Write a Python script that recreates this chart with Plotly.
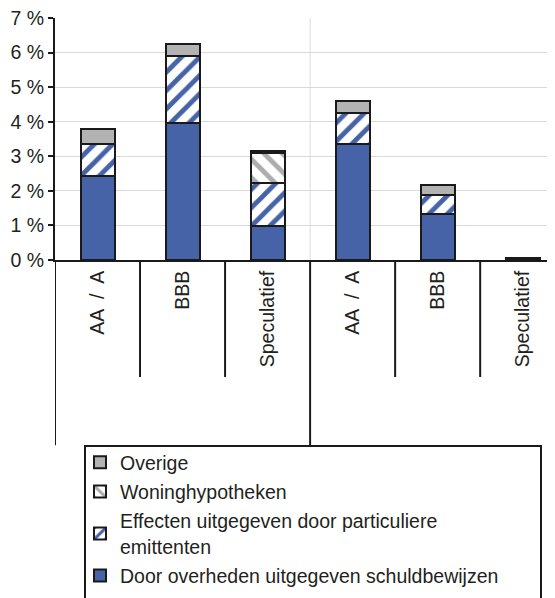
import plotly.graph_objects as go

categories = ["AA\u2002/\u2002A", "BBB", "Speculatief", "AA\u2002/\u2002A", "BBB", "Speculatief"]
door = [2.43, 3.96, 0.97, 3.35, 1.34, 0.03]
effecten = [0.93, 1.95, 1.25, 0.91, 0.53, 0.0]
woning = [0.0, 0.0, 0.87, 0.0, 0.0, 0.0]
overige = [0.43, 0.34, 0.05, 0.34, 0.29, 0.02]
yticks = [0, 1, 2, 3, 4, 5, 6, 7]
ytick_labels = [f"{v} %" for v in yticks]

BLUE = "#4763a7"
GRAY = "#b3b3b3"
TXT = "#231f20"
FONT = "Liberation Sans, Arial, sans-serif"
FS = 19.5

# page has an 8px body margin; the figure is sized to fill the remaining window
W, H = 547, 590

xs = list(range(len(categories)))
line = dict(color="#1a1a1a", width=2)

fig = go.Figure()
fig.add_bar(x=xs, y=door, name="Door overheden uitgegeven schuldbewijzen",
            marker=dict(color=BLUE, line=line), width=0.4, legendrank=4, legendgroup="d")
fig.add_bar(x=xs, y=effecten, name="Effecten uitgegeven door particuliere<br>emittenten",
            marker=dict(color="white", line=line,
                        pattern=dict(shape="/", fgcolor=BLUE, bgcolor="white",
                                     size=13, solidity=0.38, fillmode="replace")),
            width=0.4, legendrank=3, legendgroup="c")
fig.add_bar(x=xs, y=woning, name="Woninghypotheken",
            marker=dict(color="white", line=line,
                        pattern=dict(shape="\\", fgcolor="#adadad", bgcolor="white",
                                     size=13, solidity=0.38, fillmode="replace")),
            width=0.4, legendrank=2, legendgroup="b")
fig.add_bar(x=xs, y=overige, name="Overige",
            marker=dict(color=GRAY, line=line), width=0.4, legendrank=1, legendgroup="a")

shapes = []
# vertical grid line between groups
shapes.append(dict(type="line", xref="x", yref="y", x0=2.5, x1=2.5, y0=0, y1=7,
                   line=dict(color="#d9d9d9", width=1), layer="below"))
# category separators below axis
for b in [0.5, 1.5, 3.5, 4.5]:
    shapes.append(dict(type="line", xref="x", yref="paper", x0=b, x1=b, y0=0, y1=-0.4835,
                       line=dict(color="#1a1a1a", width=2)))
for b in [-0.5, 2.5]:
    shapes.append(dict(type="line", xref="x", yref="paper", x0=b, x1=b, y0=0, y1=-0.766,
                       line=dict(color="#1a1a1a", width=2)))
# legend box
shapes.append(dict(type="rect", xref="paper", yref="paper", x0=0.06, x1=0.972,
                   y0=-0.7686, y1=-1.6, line=dict(color="#1a1a1a", width=2),
                   fillcolor="rgba(0,0,0,0)"))

fig.update_layout(
    width=W, height=H,
    margin=dict(l=47, r=0, t=10, b=338, autoexpand=False),
    paper_bgcolor="white", plot_bgcolor="white",
    barmode="stack", bargap=0.6,
    font=dict(family=FONT, size=FS, color=TXT),
    showlegend=True,
    legend=dict(xref="container", yref="container", x=72 / W, xanchor="left",
                y=1 - 435 / H, yanchor="top",
                traceorder="grouped", tracegroupgap=1,
                font=dict(family=FONT, size=FS, color=TXT),
                bgcolor="rgba(0,0,0,0)", borderwidth=0, itemsizing="constant"),
    shapes=shapes,
)
fig.update_xaxes(range=[-0.5, 5.38], tickmode="array", tickvals=xs, ticktext=categories,
                 tickangle=-90, showgrid=False, showline=True, linecolor="#1a1a1a",
                 linewidth=2, ticks="outside", ticklen=1, tickcolor="rgba(0,0,0,0)",
                 zeroline=False, automargin=False,
                 tickfont=dict(family=FONT, size=FS, color=TXT))
fig.update_yaxes(range=[0, 7], tickmode="array", tickvals=yticks, ticktext=ytick_labels,
                 showgrid=True, gridcolor="#d9d9d9", gridwidth=1, showline=True,
                 linecolor="#1a1a1a", linewidth=2, ticks="outside", ticklen=5,
                 tickcolor="#1a1a1a", tickwidth=1.5, zeroline=False, automargin=False,
                 ticklabeloverflow="allow",
                 tickfont=dict(family=FONT, size=FS, color=TXT))

fig.write_html("out.html")
